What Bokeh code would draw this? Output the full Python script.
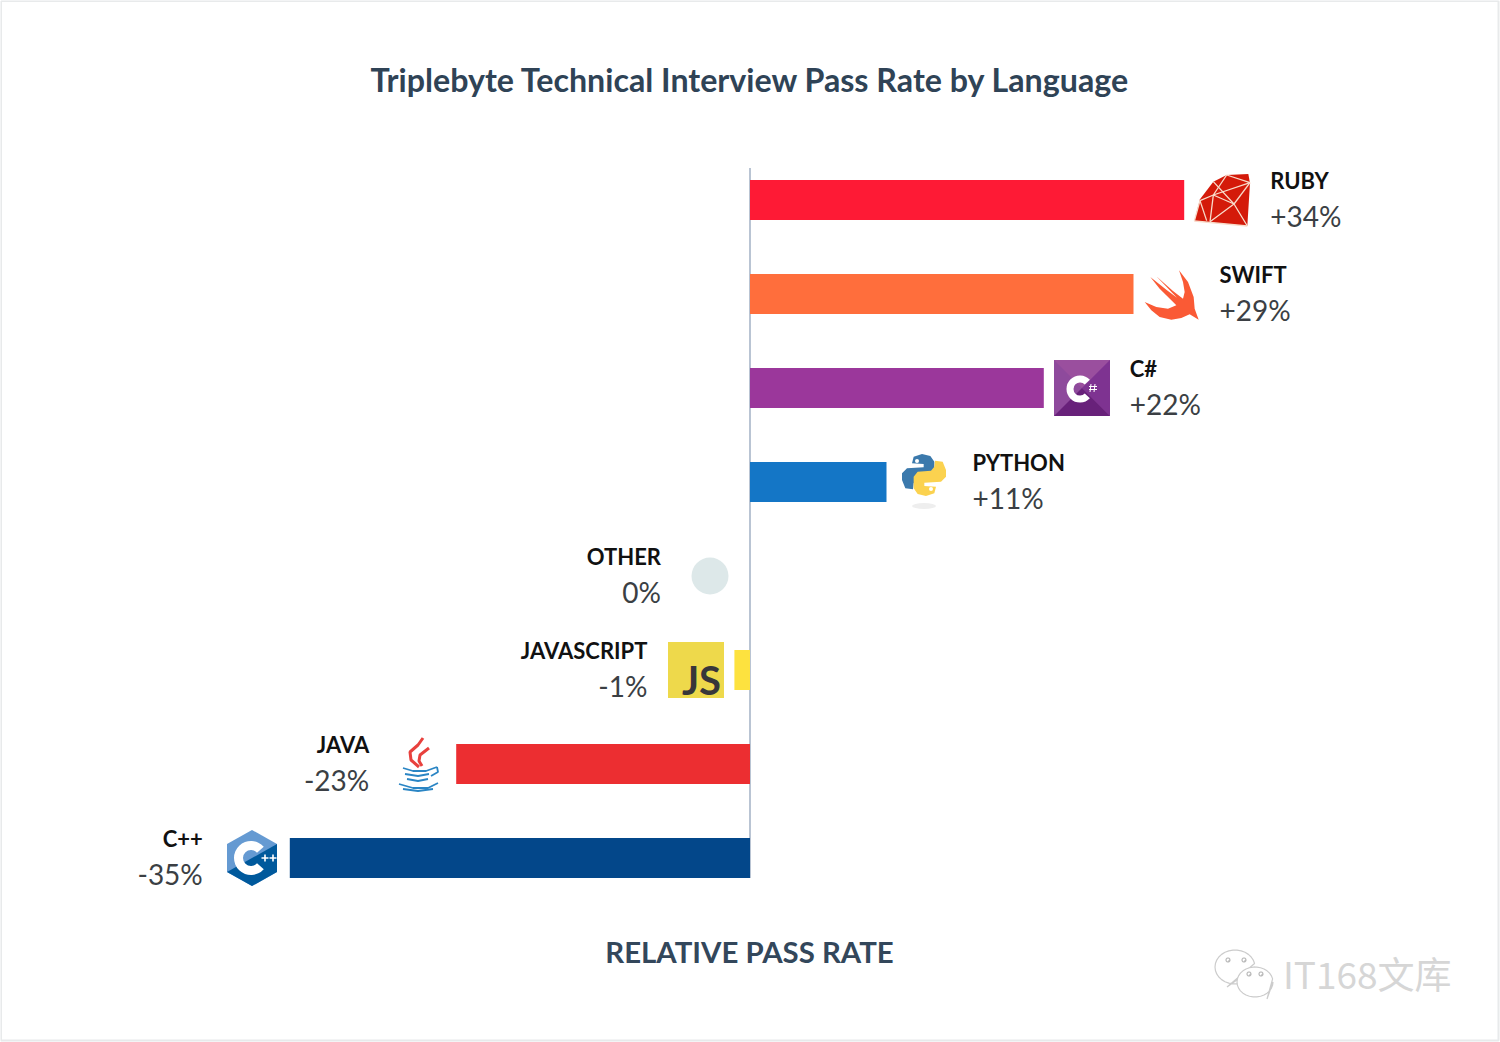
import numpy as np
from bokeh.core.properties import value
from bokeh.embed import file_html
from bokeh.models import ColumnDataSource, Range1d
from bokeh.plotting import figure
from bokeh.resources import INLINE

# ---------- data ----------
languages = ["RUBY", "SWIFT", "C#", "PYTHON", "OTHER", "JAVASCRIPT", "JAVA", "C++"]
value_labels = ["+34%", "+29%", "+22%", "+11%", "0%", "-1%", "-23%", "-35%"]
bar_values = [33.4, 29.5, 22.6, 10.5, 0.0, -1.2, -22.6, -35.4]   # as drawn in the picture
bar_colors = ["#fe1a35", "#ff6e3c", "#9b379b", "#1476c6", "#dde8e9", "#fde23f", "#ec2e31", "#03478a"]
label_gaps = [86, 86, 86, 86, -89, -87, -87, -87]
ranks = list(range(len(languages)))

title_text = "Triplebyte Technical Interview Pass Rate by Language"
axis_text = "RELATIVE PASS RATE"
watermark_text = "IT168文库"

# ---------- scales: 13 px per percentage point, 94 px per row ----------
PX_X, PX_Y = 13.0, 94.0
def X(px):
    return (np.asarray(px, dtype=float) - 750.0) / PX_X
def Y(py):
    return (np.asarray(py, dtype=float) - 200.0) / PX_Y

p = figure(width=1500, height=1042, output_backend="svg", toolbar_location=None,
           x_range=Range1d(float(X(0.5)), float(X(1500.5))),
           y_range=Range1d(float(Y(1042.5)), float(Y(0.5))),
           min_border=0, outline_line_color=None,
           background_fill_color="white", border_fill_color="white")
p.xaxis.visible = False
p.yaxis.visible = False
p.grid.visible = False

def caption(px, py, text, size, color, font="Lato", style="bold", align="center"):
    p.text([float(X(px))], [float(Y(py))], text=[text], text_align=align, text_baseline="middle",
           text_font=value(font), text_font_style=style, text_font_size=size, text_color=color)

caption(750.5, 79, title_text, "32.2px", "#2f4356")
caption(749.5, 951, axis_text, "29.4px", "#33475b")

# the zero line
p.segment(x0=[0], y0=[float(Y(168))], x1=[0], y1=[float(Y(878))], line_color="#b9c4d3", line_width=2)

src = ColumnDataSource(dict(
    lang=languages, val=value_labels, rank=ranks, bar=bar_values, color=bar_colors, gap=label_gaps,
    align=["left" if g > 0 else "right" for g in label_gaps],
))
p.hbar(y="rank", left=0, right="bar", height=40 / PX_Y, color="color", line_color=None, source=src)

p.text(x="bar", y="rank", text="lang", x_offset="gap", y_offset=-20, source=src, text_align="align",
       text_baseline="middle", text_font=value("Lato"), text_font_style="bold",
       text_font_size="22px", text_color="#111111")
p.text(x="bar", y="rank", text="val", x_offset="gap", y_offset=16, source=src, text_align="align",
       text_baseline="middle", text_font=value("Lato"), text_font_size="28px", text_color="#3b3f44")

# ---------- icons (decoration), outlines in pixels relative to the icon centre ----------
def poly(cx, cy, pts, color, scale=1.0):
    a = np.asarray(pts, dtype=float) * scale
    p.patch(X(cx + a[:, 0]), Y(cy + a[:, 1]), color=color, line_color=None)
def lines(cx, cy, paths, color, width, scale=1.0):
    xs = [X(cx + np.asarray(q, dtype=float)[:, 0] * scale) for q in paths]
    ys = [Y(cy + np.asarray(q, dtype=float)[:, 1] * scale) for q in paths]
    p.multi_line(xs, ys, line_color=color, line_width=width)

ruby_c = (546, 120)
rb = lambda l: [(a - ruby_c[0], b - ruby_c[1]) for a, b in l]
poly(1222, 200, rb([(463, 183), (480, 118), (520, 65), (560, 45), (625, 42), (630, 70), (622, 198)]), "#d41a0a", 1 / 3)
lines(1222, 200, [rb(q) for q in [
    [(463, 183), (622, 198)], [(480, 122), (520, 105), (582, 132), (510, 185)],
    [(520, 65), (582, 132), (622, 198)], [(582, 132), (630, 68)], [(520, 105), (510, 185)],
    [(480, 122), (500, 182)], [(480, 122), (463, 183)], [(520, 105), (560, 45), (630, 68), (520, 105)],
]], "#f8dccb", 1.3, 1 / 3)

# Swift
sw = [(a - 400, b - 404) for a, b in [
    (418, 330), (445, 365), (462, 410), (465, 445), (477, 478), (450, 462), (425, 473), (395, 478),
    (360, 470), (335, 450), (315, 425), (350, 440), (385, 445), (410, 435), (395, 420), (360, 385),
    (332, 350), (380, 388), (412, 412), (350, 348), (400, 392), (430, 415), (435, 395), (430, 365)]]
poly(1173, 295, sw, "#fa5a35", 1 / 3)

# C#
poly(1082, 388, [(-28, -28), (28, -28), (28, 28), (-28, 28)], "#8e4a9c")
poly(1082, 388, [(-28, -28), (28, -28), (0, 0)], "#9a4f9e")
poly(1082, 388, [(28, -28), (28, 28), (0, 0)], "#7e3391")
poly(1082, 388, [(-28, 28), (28, 28), (0, 0)], "#68217a")
p.annular_wedge(X(1080), Y(389), inner_radius=6.5, outer_radius=13.5, inner_radius_units="screen",
                outer_radius_units="screen", start_angle=0.75, end_angle=2 * np.pi - 0.75,
                color="white", line_color=None)
lines(1093, 388, [[(-2, -4), (-3, 4)], [(2, -4), (1, 4)], [(-4, -1.5), (4, -1.5)], [(-4, 1.5), (4, 1.5)]], "white", 1)

# Python
python_blue = [(-36, -35), (-31, -55), (-6, -63), (19, -57), (31, -40), (31, -5), (19, 10), (-21, 13),
               (-31, 25), (-33, 43), (-56, 40), (-66, 15), (-66, -5), (-51, -20), (-1, -23), (-1, -33)]
poly(924, 475, python_blue, "#3b79ac", 1 / 3)
poly(924, 475, [(-a, -b) for a, b in python_blue], "#fbd24f", 1 / 3)
p.scatter(X([917, 931]), Y([461, 489]), size=4, color="white", line_color=None)
p.ellipse(X(924), Y(506), width=24 / PX_X, height=6 / PX_Y, color="#eeeeee", line_color=None)

# Other
p.scatter(X(710), Y(576), size=37, color="#dde8e9", line_color=None)

# JavaScript
poly(696, 670, [(-28, -28), (28, -28), (28, 28), (-28, 28)], "#eed94b")
caption(721, 680, "JS", "40px", "#37363a", align="right")

# Java
lines(418, 764, [
    [(5, -26), (0, -19), (-8, -12), (-7, -4), (1, 3)],
    [(11, -16), (2, -9), (1, -3), (4, 2)]], "#e8413d", 3)
lines(418, 764, [
    [(-15, 4), (-5, 7), (8, 7), (19, 3)], [(19, 3), (20, 8), (13, 12)],
    [(-13, 10), (0, 12), (11, 10)], [(-11, 15), (0, 17), (10, 15)],
    [(-19, 20), (-5, 24), (10, 24), (20, 19)], [(-15, 25), (0, 27), (15, 25)]], "#2a85c4", 1.8)

# C++
hexagon = [(0, -28), (25, -14), (25, 14), (0, 28), (-25, 14), (-25, -14)]
poly(252, 858, hexagon, "#659ad2")
poly(252, 858, [(-25, 14), (0, 0), (25, -14), (25, 14), (0, 28)], "#00599c")
p.annular_wedge(X(251), Y(858), inner_radius=8, outer_radius=17, inner_radius_units="screen",
                outer_radius_units="screen", start_angle=0.72, end_angle=2 * np.pi - 0.72,
                color="white", line_color=None)
p.scatter(X([265, 273]), Y([858, 858]), size=7, marker="cross", line_color="white", line_width=1.6)

# ---------- watermark, and the thin frame of the picture ----------
def bubble(cx, cy, rx, ry, tail, line="#cccccc"):
    t = np.radians(np.arange(0, 360, 12))
    xs = np.append(cx + rx * np.cos(t), cx + tail[0])
    ys = np.append(cy + ry * np.sin(t), cy + tail[1])
    p.patch(X(xs), Y(ys), fill_color="white", line_color=line, line_width=1.2)
bubble(1235, 967, 20, 17, (-8, 20))
bubble(1255, 982, 18, 15, (12, 17))
for ex, ey in [(1228, 960), (1244, 960), (1249, 974), (1261, 974)]:
    bubble(ex, ey, 2, 2, (0, 2), "#bbbbbb")
caption(1283, 973, watermark_text, "37px", "#d6d6d6", font="Noto Sans CJK SC", style="normal", align="left")

lines(0, 0, [[(1, 1), (1498.5, 1), (1498.5, 1040.5), (1, 1040.5), (1, 1)]], "#e8eaeb", 2)

open("out.html", "w").write(file_html(p, INLINE))
